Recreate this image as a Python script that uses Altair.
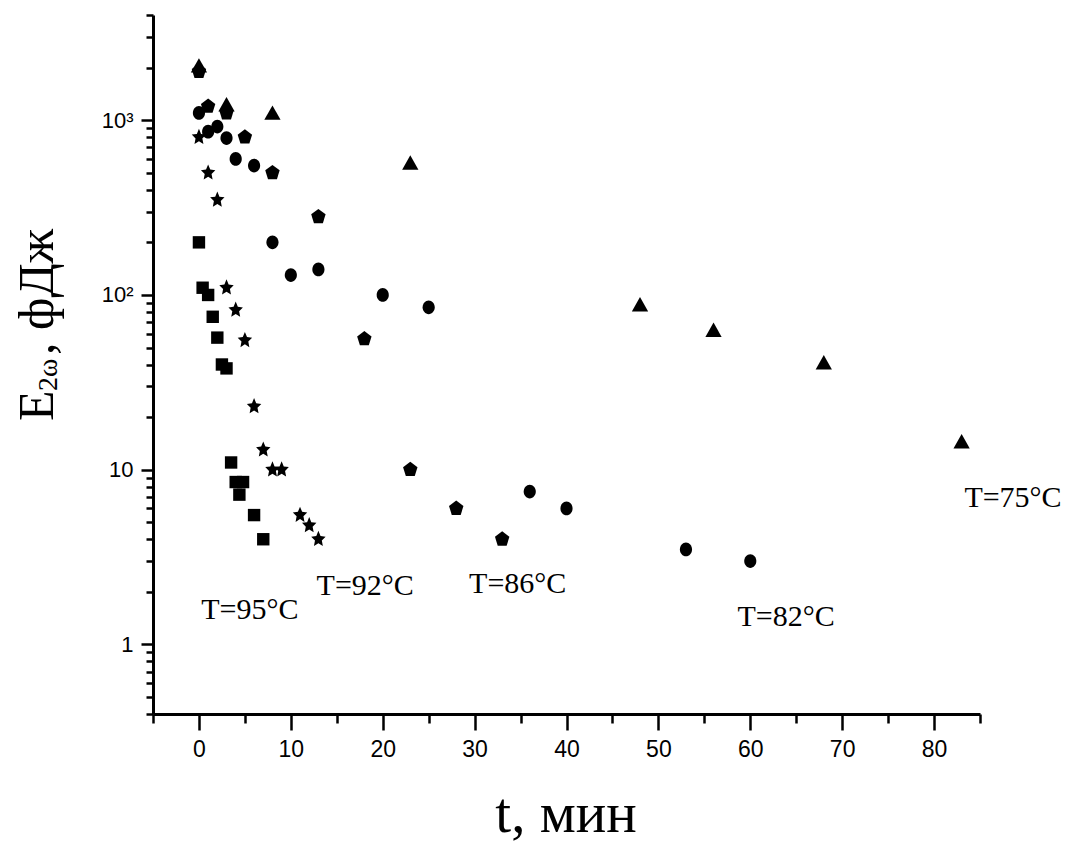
import math
import altair as alt
import pandas as pd

# ---------------- data ----------------
series_names = ["T=95", "T=92", "T=82", "T=86", "T=75"]

sq_t = [0, 0.4, 1, 1.5, 2, 2.5, 3, 3.5, 4, 4.4, 4.8, 6, 7]
sq_E = [200, 110, 100, 75, 57, 40, 38, 11, 8.5, 7.2, 8.5, 5.5, 4.0]

star_t = [0, 1, 2, 3, 4, 5, 6, 7, 8, 9, 11, 12, 13]
star_E = [800, 500, 350, 110, 82, 55, 23, 13, 10, 10, 5.5, 4.8, 4.0]

circ_t = [0, 1, 2, 3, 4, 6, 8, 10, 13, 20, 25, 36, 40, 53, 60]
circ_E = [1100, 860, 920, 790, 600, 550, 200, 130, 140, 100, 85, 7.5, 6.0, 3.5, 3.0]

pent_t = [0, 1, 3, 5, 8, 13, 18, 23, 28, 33]
pent_E = [1900, 1200, 1100, 800, 500, 280, 56, 10, 6.0, 4.0]

tri_t = [0, 3, 8, 23, 48, 56, 68, 83]
tri_E = [2050, 1230, 1100, 570, 88, 63, 41, 14.5]

label_text = ["T=95°C", "T=92°C", "T=86°C", "T=82°C", "T=75°C"]
label_t = [0.25, 12.8, 29.4, 58.6, 83.3]
label_E = [1.39, 1.91, 1.96, 1.27, 6.13]

x_major = [0, 10, 20, 30, 40, 50, 60, 70, 80]
x_minor = [-5, 5, 15, 25, 35, 45, 55, 65, 75, 85]
y_major = [1, 10, 100, 1000]
y_minor = [0.4, 0.5, 0.6, 0.7, 0.8, 0.9,
           2, 3, 4, 5, 6, 7, 8, 9,
           20, 30, 40, 50, 60, 70, 80, 90,
           200, 300, 400, 500, 600, 700, 800, 900,
           2000, 3000, 4000]

rows = []
for name, ts, es in [("T=95", sq_t, sq_E), ("T=92", star_t, star_E),
                     ("T=82", circ_t, circ_E), ("T=86", pent_t, pent_E),
                     ("T=75", tri_t, tri_E)]:
    for t, e in zip(ts, es):
        rows.append({"t": t, "E": e, "series": name})
df = pd.DataFrame(rows)
labels_df = pd.DataFrame({"t": label_t, "E": label_E, "label": label_text})

# ---------------- marker shapes (unit paths) ----------------
def poly(points):
    return "M" + "L".join(f"{x:.3f},{y:.3f}" for x, y in points) + "Z"

def star(rx, ry, irx, iry):
    pts = []
    for k in range(10):
        a = math.radians(-90 + 36 * k)
        if k % 2 == 0:
            pts.append((rx * math.cos(a), ry * math.sin(a)))
        else:
            pts.append((irx * math.cos(a), iry * math.sin(a)))
    return poly(pts)

def pentagon(rx, ry):
    pts = []
    for k in range(5):
        a = math.radians(-90 + 72 * k)
        pts.append((rx * math.cos(a), ry * math.sin(a)))
    return poly(pts)

square_path = "M-0.9,-0.9H0.9V0.9H-0.9Z"
ellipse_path = ("M0,-1C0.486,-1 0.88,-0.552 0.88,0C0.88,0.552 0.486,1 0,1"
                "C-0.486,1 -0.88,0.552 -0.88,0C-0.88,-0.552 -0.486,-1 0,-1Z")
triangle_path = "M0,-1.1L1.18,1.0L-1.18,1.0Z"
shape_range = [square_path, star(1.1, 1.22, 0.52, 0.58), ellipse_path,
               pentagon(1.1, 1.15), triangle_path]

# ---------------- scales & axes ----------------
xscale = alt.Scale(domain=[-5, 85], nice=False, zero=False)
yscale = alt.Scale(type="log", domain=[0.4, 4000], nice=False)

common_axis = dict(grid=False, domainColor="black", tickColor="black",
                   labelColor="black", title=None)

x_axis_major = alt.Axis(values=x_major, tickSize=16, tickWidth=2.5, domainWidth=3,
                        labelFont="Liberation Sans", labelFontSize=23, labelPadding=8,
                        orient="bottom", **common_axis)
x_axis_minor = alt.Axis(values=x_minor, tickSize=9, tickWidth=2.5, domain=False,
                        labels=False, orient="bottom", **common_axis)

y_label_expr = ("datum.value >= 1000 ? '10³\u2009' : datum.value >= 100 ? '10²\u2009' : "
                "datum.value >= 10 ? '10\u2002' : '1'")
y_axis_major = alt.Axis(values=y_major, tickSize=12, tickWidth=2.5, domainWidth=3,
                        labelFont="Liberation Sans", labelFontSize=22, labelPadding=8,
                        labelExpr=y_label_expr, orient="left", **common_axis)
y_axis_minor = alt.Axis(values=y_minor, tickSize=7, tickWidth=2.5, domain=False,
                        labels=False, orient="left", **common_axis)

points = alt.Chart(df).mark_point(filled=True, color="black", opacity=1,
                                  size=190, strokeWidth=0).encode(
    x=alt.X("t:Q", scale=xscale, axis=x_axis_major),
    y=alt.Y("E:Q", scale=yscale, axis=y_axis_major),
    shape=alt.Shape("series:N", scale=alt.Scale(domain=series_names, range=shape_range),
                    legend=None),
)

minor = alt.Chart(df).mark_point(opacity=0).encode(
    x=alt.X("t:Q", scale=xscale, axis=x_axis_minor),
    y=alt.Y("E:Q", scale=yscale, axis=y_axis_minor),
)

labels = alt.Chart(labels_df).mark_text(
    align="left", baseline="alphabetic", font="Liberation Serif",
    fontSize=30, color="black").encode(
    x=alt.X("t:Q", scale=xscale, axis=None),
    y=alt.Y("E:Q", scale=yscale, axis=None),
    text="label:N",
)

one = alt.Data(values=[{}])
serif = "Liberation Serif"
yt_E = alt.Chart(one).mark_text(text="E", font=serif, fontSize=50, angle=270,
                                align="left", baseline="alphabetic", color="black").encode(
    x=alt.value(-100), y=alt.value(406))
yt_sub = alt.Chart(one).mark_text(text="2ω", font=serif, fontSize=28, angle=270,
                                  align="left", baseline="alphabetic", color="black").encode(
    x=alt.value(-96), y=alt.value(376))
yt_rest = alt.Chart(one).mark_text(text=", фДж", font=serif, fontSize=50, angle=270,
                                   align="left", baseline="alphabetic", color="black").encode(
    x=alt.value(-100), y=alt.value(340))
xt = alt.Chart(one).mark_text(text="t, мин", font=serif, fontSize=57,
                              align="center", baseline="alphabetic", color="black").encode(
    x=alt.value(413), y=alt.value(817))

chart = alt.layer(minor, points, labels, yt_E, yt_sub, yt_rest, xt).resolve_axis(
    x="independent", y="independent"
).properties(
    width=827, height=699,
    padding={"left": 153, "top": 15, "right": 86, "bottom": 129},
    autosize=alt.AutoSizeParams(type="none"),
    background="white",
).configure_view(stroke=None)

chart.save("out.html", embed_options={"renderer": "svg", "actions": False})
